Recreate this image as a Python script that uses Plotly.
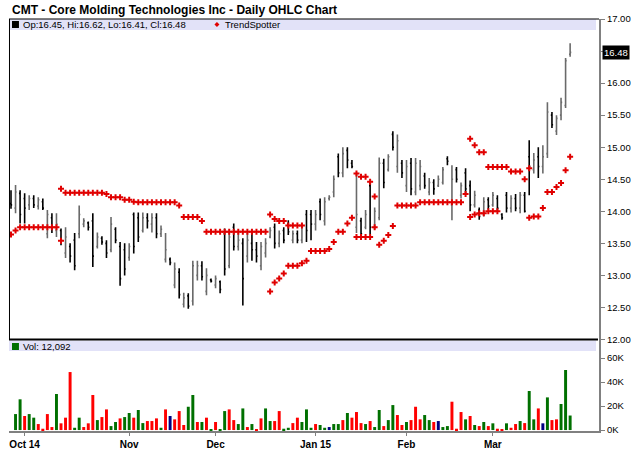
import pandas as pd
import plotly.graph_objects as go

# trading days shown on the chart (weekdays minus market holidays)
holidays = ["2014-11-27", "2014-12-25", "2015-01-01", "2015-01-19", "2015-02-16"]
days = pd.bdate_range("2014-09-26", "2015-03-25")
days = days[~days.isin(pd.to_datetime(holidays))]
dates = [d.strftime("%Y-%m-%d") for d in days]

# month ticks on the x axis
month_ticks = ["2014-10-01", "2014-11-03", "2014-12-01", "2015-01-02", "2015-02-02", "2015-03-02"]
month_labels = ["Oct 14", "Nov", "Dec", "Jan 15", "Feb", "Mar"]

opens = [14.12, 14.05, 14.28, 14.20, 14.10, 14.20, 14.08, 14.15, 13.65, 13.90,
         13.70, 13.70, 13.35, 13.45, 13.55, 13.65, 13.80, 13.82, 13.85, 13.45,
         13.58, 13.50, 13.40, 13.72, 13.45, 13.40, 13.28, 13.95, 13.90, 13.70,
         13.90, 13.80, 13.90, 13.65, 13.25, 13.25, 12.85, 13.05, 12.55, 12.68,
         12.60, 13.00, 13.15, 12.75, 12.93, 12.85, 12.90, 13.65, 13.15, 13.75,
         13.45, 13.50, 13.30, 13.50, 13.40, 13.15, 13.35, 13.60, 13.75, 13.50,
         13.70, 13.80, 13.55, 13.65, 13.55, 13.95, 13.95, 13.80, 14.15, 13.85,
         14.20, 14.30, 14.85, 14.60, 14.95, 14.75, 13.75, 13.85, 13.75, 14.40,
         13.75, 13.90, 14.75, 14.65, 15.20, 14.70, 14.75, 14.40, 14.75, 14.30,
         14.40, 14.55, 14.30, 14.45, 14.40, 14.45, 14.82, 14.10, 14.65, 14.25,
         14.60, 14.40, 14.10, 14.02, 13.95, 14.18, 14.10, 14.20, 13.95, 14.25,
         14.05, 14.20, 14.05, 14.25, 14.85, 14.65, 14.85, 14.70, 14.90, 15.50,
         15.25, 15.50, 15.65, 16.45]
highs = [14.33, 14.41, 14.33, 14.28, 14.25, 14.25, 14.22, 14.20, 14.02, 13.97,
         13.97, 13.73, 13.75, 13.50, 13.66, 14.09, 13.89, 13.84, 13.97, 13.67,
         13.61, 13.55, 13.91, 13.75, 13.52, 13.50, 13.50, 13.98, 13.98, 13.98,
         13.97, 13.97, 13.97, 13.78, 13.66, 13.28, 13.20, 13.11, 12.73, 12.72,
         13.23, 13.23, 13.22, 13.11, 12.95, 13.00, 12.92, 13.73, 13.70, 13.81,
         13.70, 13.58, 13.66, 13.67, 13.52, 13.52, 13.58, 13.75, 13.81, 13.70,
         13.75, 13.86, 13.70, 13.70, 13.81, 14.02, 14.02, 14.02, 14.20, 14.22,
         14.25, 14.56, 14.90, 15.00, 15.00, 14.80, 14.60, 13.90, 14.02, 14.45,
         14.06, 14.84, 14.82, 14.89, 15.25, 15.20, 14.80, 14.80, 14.83, 14.83,
         14.80, 14.60, 14.52, 14.50, 14.56, 14.69, 14.86, 14.72, 14.69, 14.45,
         14.67, 14.48, 14.32, 14.06, 14.22, 14.22, 14.30, 14.25, 13.97, 14.30,
         14.25, 14.27, 14.30, 14.30, 15.11, 14.91, 15.00, 15.03, 15.70, 15.55,
         15.50, 15.77, 16.39, 16.62]
lows = [14.04, 13.97, 13.81, 13.81, 14.02, 14.05, 14.03, 14.02, 13.58, 13.66,
        13.60, 13.47, 13.27, 13.20, 13.08, 13.58, 13.75, 13.70, 13.13, 13.42,
        13.48, 13.27, 13.36, 13.50, 12.84, 13.00, 13.23, 13.34, 13.52, 13.67,
        13.73, 13.67, 13.58, 13.60, 13.20, 13.16, 12.80, 12.64, 12.50, 12.48,
        12.53, 12.92, 12.92, 12.69, 12.89, 12.80, 12.72, 13.00, 13.11, 13.39,
        13.39, 12.53, 13.20, 13.23, 13.20, 13.08, 13.28, 13.58, 13.42, 13.44,
        13.50, 13.63, 13.50, 13.50, 13.50, 13.52, 13.55, 13.70, 13.86, 13.78,
        14.17, 14.22, 14.53, 14.53, 14.67, 14.67, 13.66, 13.60, 13.72, 13.64,
        13.72, 13.86, 14.36, 14.62, 14.95, 14.60, 14.52, 14.30, 14.25, 14.25,
        14.33, 14.35, 14.25, 14.26, 14.38, 14.42, 14.72, 13.86, 14.45, 14.20,
        14.27, 14.00, 14.06, 13.87, 13.92, 14.03, 14.07, 14.00, 13.87, 13.98,
        13.98, 14.00, 13.97, 13.98, 14.25, 14.59, 14.52, 14.59, 14.83, 15.30,
        15.19, 15.42, 15.61, 16.41]
closes = [14.10, 14.30, 13.95, 14.05, 14.20, 14.10, 14.18, 14.05, 13.95, 13.75,
          13.80, 13.55, 13.60, 13.30, 13.15, 13.95, 13.85, 13.75, 13.30, 13.60,
          13.52, 13.35, 13.80, 13.55, 12.95, 13.10, 13.45, 13.45, 13.60, 13.90,
          13.85, 13.90, 13.65, 13.72, 13.40, 13.20, 13.10, 12.70, 12.65, 12.52,
          13.15, 13.15, 12.98, 13.00, 12.91, 12.95, 12.78, 13.10, 13.60, 13.45,
          13.55, 12.95, 13.55, 13.40, 13.30, 13.45, 13.50, 13.70, 13.50, 13.65,
          13.55, 13.68, 13.65, 13.55, 13.75, 13.70, 13.80, 13.95, 13.95, 14.15,
          14.22, 14.50, 14.60, 14.90, 14.80, 14.70, 13.95, 13.65, 13.95, 13.75,
          14.00, 14.75, 14.45, 14.85, 15.00, 15.10, 14.60, 14.70, 14.35, 14.75,
          14.70, 14.40, 14.45, 14.35, 14.50, 14.65, 14.78, 14.50, 14.50, 14.40,
          14.35, 14.10, 14.25, 13.92, 14.15, 14.08, 14.25, 14.05, 13.90, 14.05,
          14.20, 14.05, 14.25, 14.00, 14.70, 14.80, 14.70, 14.85, 15.55, 15.35,
          15.45, 15.70, 16.35, 16.48]

# TrendSpotter dots, one per bar, plus the second dot drawn on reversal bars
trend_dots = [13.64, 13.70, 13.75, 13.75, 13.75, 13.75, 13.75, 13.75, 13.75, 13.75,
              13.75, 14.35, 14.29, 14.29, 14.29, 14.29, 14.29, 14.29, 14.29, 14.29,
              14.29, 14.27, 14.22, 14.22, 14.22, 14.18, 14.18, 14.15, 14.14, 14.14,
              14.14, 14.14, 14.14, 14.14, 14.14, 14.14, 14.14, 14.09, 13.91, 13.91,
              13.91, 13.91, 13.85, 13.68, 13.68, 13.68, 13.68, 13.68, 13.68, 13.68,
              13.68, 13.68, 13.68, 13.68, 13.68, 13.68, 13.68, 13.95, 13.88, 13.85,
              13.85, 13.78, 13.78, 13.78, 13.78, 13.23, 13.38, 13.38, 13.38, 13.38,
              13.41, 13.52, 13.68, 13.68, 13.81, 13.90, 14.59, 14.54, 14.54, 14.46,
              14.23, 13.48, 13.54, 13.63, 13.77, 14.09, 14.09, 14.09, 14.09, 14.09,
              14.14, 14.14, 14.14, 14.14, 14.14, 14.14, 14.14, 14.14, 14.14, 14.14,
              14.27, 15.13, 15.03, 14.92, 14.92, 14.69, 14.69, 14.69, 14.69, 14.69,
              14.62, 14.62, 14.62, 14.50, 14.67, 13.92, 13.92, 14.05, 14.30, 14.30,
              14.38, 14.44, 14.64, 14.85]
N = None
trend_extra = [N, N, N, N, N, N, N, N, N, N,
               N, 13.54, N, N, N, N, N, N, N, N,
               N, N, N, N, N, N, N, N, N, N,
               N, N, N, N, N, N, N, N, N, N,
               N, N, N, N, N, N, N, N, N, N,
               N, N, N, N, N, N, N, 12.75, 12.89, 12.95,
               13.03, 13.15, 13.15, 13.15, 13.19, N, N, N, N, N,
               N, N, N, N, N, N, 13.60, 13.60, 13.60, 13.60,
               13.75, N, N, N, N, N, N, N, N, N,
               N, N, N, N, N, N, N, N, N, N,
               N, 13.91, 13.95, 13.97, 13.97, 14.00, 14.00, 14.00, N, N,
               N, N, N, N, 13.90, N, N, N, N, N,
               N, N, N, N]

volumes = [0, 13300, 25600, 11700, 13300, 10300, 5000, 1100, 13300, 2500,
           30000, 5600, 10300, 48300, 1900, 10300, 2500, 5600, 29200, 8300,
           10800, 17200, 3300, 6700, 9700, 10800, 14200, 10300, 16700, 5800,
           7500, 7500, 9700, 1900, 17200, 11700, 8900, 15800, 4200, 19400,
           29200, 6700, 6700, 10300, 600, 6700, 600, 15800, 17200, 8300,
           5000, 18000, 2500, 5000, 600, 9700, 18000, 7500, 7500, 15800,
           1100, 1900, 5800, 10300, 6700, 17200, 1900, 5000, 4200, 1900,
           2500, 5000, 5000, 8300, 14200, 10300, 15000, 5800, 5000, 7500,
           2500, 16700, 3300, 8300, 20800, 12500, 4200, 6700, 8300, 19400,
           8900, 12500, 8300, 6700, 7500, 2500, 3300, 23600, 1100, 15000,
           8900, 11700, 4200, 3300, 6700, 3300, 5600, 1100, 600, 5600,
           1900, 5000, 7500, 5800, 32500, 8900, 18000, 5600, 27200, 8300,
           8900, 21700, 50000, 12092]
# 1 = up day, -1 = down day, 0 = unchanged
vol_dir = [1, 1, 1, -1, 1, 1, -1, -1, -1, -1,
           1, -1, -1, -1, 1, 1, -1, -1, -1, 1,
           -1, -1, 1, 1, -1, 1, 1, -1, 1, 1,
           -1, -1, -1, 1, -1, 0, -1, -1, -1, 1,
           1, -1, 1, -1, 1, -1, 1, 1, -1, -1,
           1, 1, -1, 1, -1, -1, 1, 1, -1, -1,
           1, 1, -1, -1, 1, 1, 1, -1, 1, 1,
           0, 1, 1, -1, 1, -1, -1, -1, 1, -1,
           1, 1, -1, 1, 1, -1, -1, 1, -1, -1,
           -1, 1, 1, -1, 0, 1, 1, -1, -1, -1,
           1, -1, 1, -1, 1, -1, 1, -1, -1, 1,
           -1, -1, 1, -1, 1, 1, -1, 0, 1, -1,
           -1, 1, 1, 1]

price_ticks = [12.0, 12.5, 13.0, 13.5, 14.0, 14.5, 15.0, 15.5, 16.0, 16.5, 17.0]
vol_ticks = [0, 20000, 40000, 60000]
vol_labels = ["0K", "20K", "40K", "60K"]

W, H = 640, 468
L, R, T, B = 9, 602, 19, 431   # plot area in pixels


def px(x):
    return (x - L) / (R - L)


def py(y):
    return (B - y) / (B - T)


FONT = "Liberation Sans"
GRAY = "#808080"
RED = "#e00000"
vol_colors = {1: "#007000", -1: "#ff0000", 0: "#000080"}

fig = go.Figure()

fig.add_trace(go.Ohlc(
    x=dates, open=opens, high=highs, low=lows, close=closes,
    increasing=dict(line=dict(color="#6a6a6a", width=1.6)),
    decreasing=dict(line=dict(color="#000000", width=1.6)),
    tickwidth=0.25, xaxis="x", yaxis="y", showlegend=False, hoverinfo="skip"))

for ys in (trend_dots, trend_extra):
    fig.add_trace(go.Scatter(
        x=dates, y=ys, mode="markers", xaxis="x", yaxis="y",
        marker=dict(symbol="cross", size=5, color=RED, line=dict(width=0)),
        showlegend=False, hoverinfo="skip"))

fig.add_trace(go.Bar(
    x=dates, y=volumes, width=0.65, xaxis="x", yaxis="y2",
    marker=dict(color=[vol_colors[d] for d in vol_dir], line=dict(width=0)),
    showlegend=False, hoverinfo="skip"))

split = py(339.5)

axis_style = dict(showline=True, linecolor=GRAY, linewidth=2, ticks="outside",
                  ticklen=4, tickcolor=GRAY, showgrid=False, zeroline=False,
                  tickfont=dict(family=FONT, size=9.5, color="#000000"))

price_text = ["" if v == 16.5 else "%.2f" % v for v in price_ticks]

fig.update_layout(
    width=W, height=H,
    margin=dict(l=L, r=W - R, t=T, b=H - B),
    paper_bgcolor="white", plot_bgcolor="white",
    xaxis=dict(type="category", range=[-0.44, 129.35], anchor="y2",
               showline=True, linecolor=GRAY, linewidth=2, ticks="outside",
               ticklen=3, tickcolor=GRAY, showgrid=False,
               tickvals=month_ticks, ticktext=["<b>%s</b>" % t for t in month_labels],
               tickfont=dict(family=FONT, size=10, color="#000000"),
               rangeslider=dict(visible=False)),
    yaxis=dict(domain=[split, 1], range=[12, 17], side="right", anchor="x",
               tickvals=price_ticks, ticktext=price_text, **axis_style),
    yaxis2=dict(domain=[0, py(340)], range=[-800, 75000], side="right", anchor="x",
                tickvals=vol_ticks, ticktext=vol_labels, **axis_style),
    bargap=0.35,
)

band = "#e2e2f8"
shapes = [
    dict(type="rect", xref="paper", yref="paper", x0=px(9), x1=px(599),
         y0=py(30), y1=py(19), fillcolor=band, line=dict(width=0), layer="below"),
    dict(type="rect", xref="paper", yref="paper", x0=px(9), x1=px(599),
         y0=py(351), y1=py(340.5), fillcolor=band, line=dict(width=0), layer="below"),
    dict(type="line", xref="paper", yref="paper", x0=px(9), x1=px(602),
         y0=py(19), y1=py(19), line=dict(color="#000000", width=1)),
    dict(type="line", xref="paper", yref="paper", x0=px(9.5), x1=px(9.5),
         y0=py(19), y1=py(340), line=dict(color="#000000", width=1)),
    dict(type="line", xref="paper", yref="paper", x0=px(9), x1=px(601),
         y0=split, y1=split, line=dict(color="#000000", width=2)),
    dict(type="rect", xref="paper", yref="paper", x0=px(12), x1=px(19),
         y0=py(28), y1=py(21), fillcolor="#000000", line=dict(width=0)),
    dict(type="rect", xref="paper", yref="paper", x0=px(12), x1=px(19),
         y0=py(350), y1=py(343), fillcolor="#007000", line=dict(width=0)),
    dict(type="path", xref="paper", yref="paper",
         path="M %f %f L %f %f L %f %f L %f %f Z" % (
             px(215.5), py(24.5), px(218), py(22), px(220.5), py(24.5), px(218), py(27)),
         fillcolor=RED, line=dict(width=0)),
]

legend_text = "Op:%.2f, Hi:%.2f, Lo:%.2f, Cl:%.2f" % (opens[-1], highs[-1], lows[-1], closes[-1])
annotations = [
    dict(text="<b>CMT - Core Molding Technologies Inc - Daily OHLC Chart</b>",
         xref="paper", yref="paper", x=px(10), y=py(10), xanchor="left", yanchor="middle",
         showarrow=False, font=dict(family=FONT, size=12, color="#000000")),
    dict(text=legend_text, xref="paper", yref="paper", x=px(21), y=py(24.5),
         xanchor="left", yanchor="middle", showarrow=False,
         font=dict(family=FONT, size=9.5, color="#000000")),
    dict(text="TrendSpotter", xref="paper", yref="paper", x=px(224), y=py(24.5),
         xanchor="left", yanchor="middle", showarrow=False,
         font=dict(family=FONT, size=9.5, color="#000000")),
    dict(text="Vol: {:,}".format(volumes[-1]), xref="paper", yref="paper", x=px(21), y=py(346.5),
         xanchor="left", yanchor="middle", showarrow=False,
         font=dict(family=FONT, size=9.5, color="#000000")),
    dict(text="%.2f" % closes[-1], xref="paper", yref="y", x=1, y=closes[-1],
         xanchor="left", yanchor="middle", xshift=3, showarrow=False,
         bgcolor="#000000", borderpad=1,
         font=dict(family=FONT, size=9.5, color="#ffffff")),
]

fig.update_layout(shapes=shapes, annotations=annotations)

# the page's default body margin would push the chart 8px right and down
fig.write_html("out.html", config={"displayModeBar": False},
               post_script="document.body.style.margin = '0';")
